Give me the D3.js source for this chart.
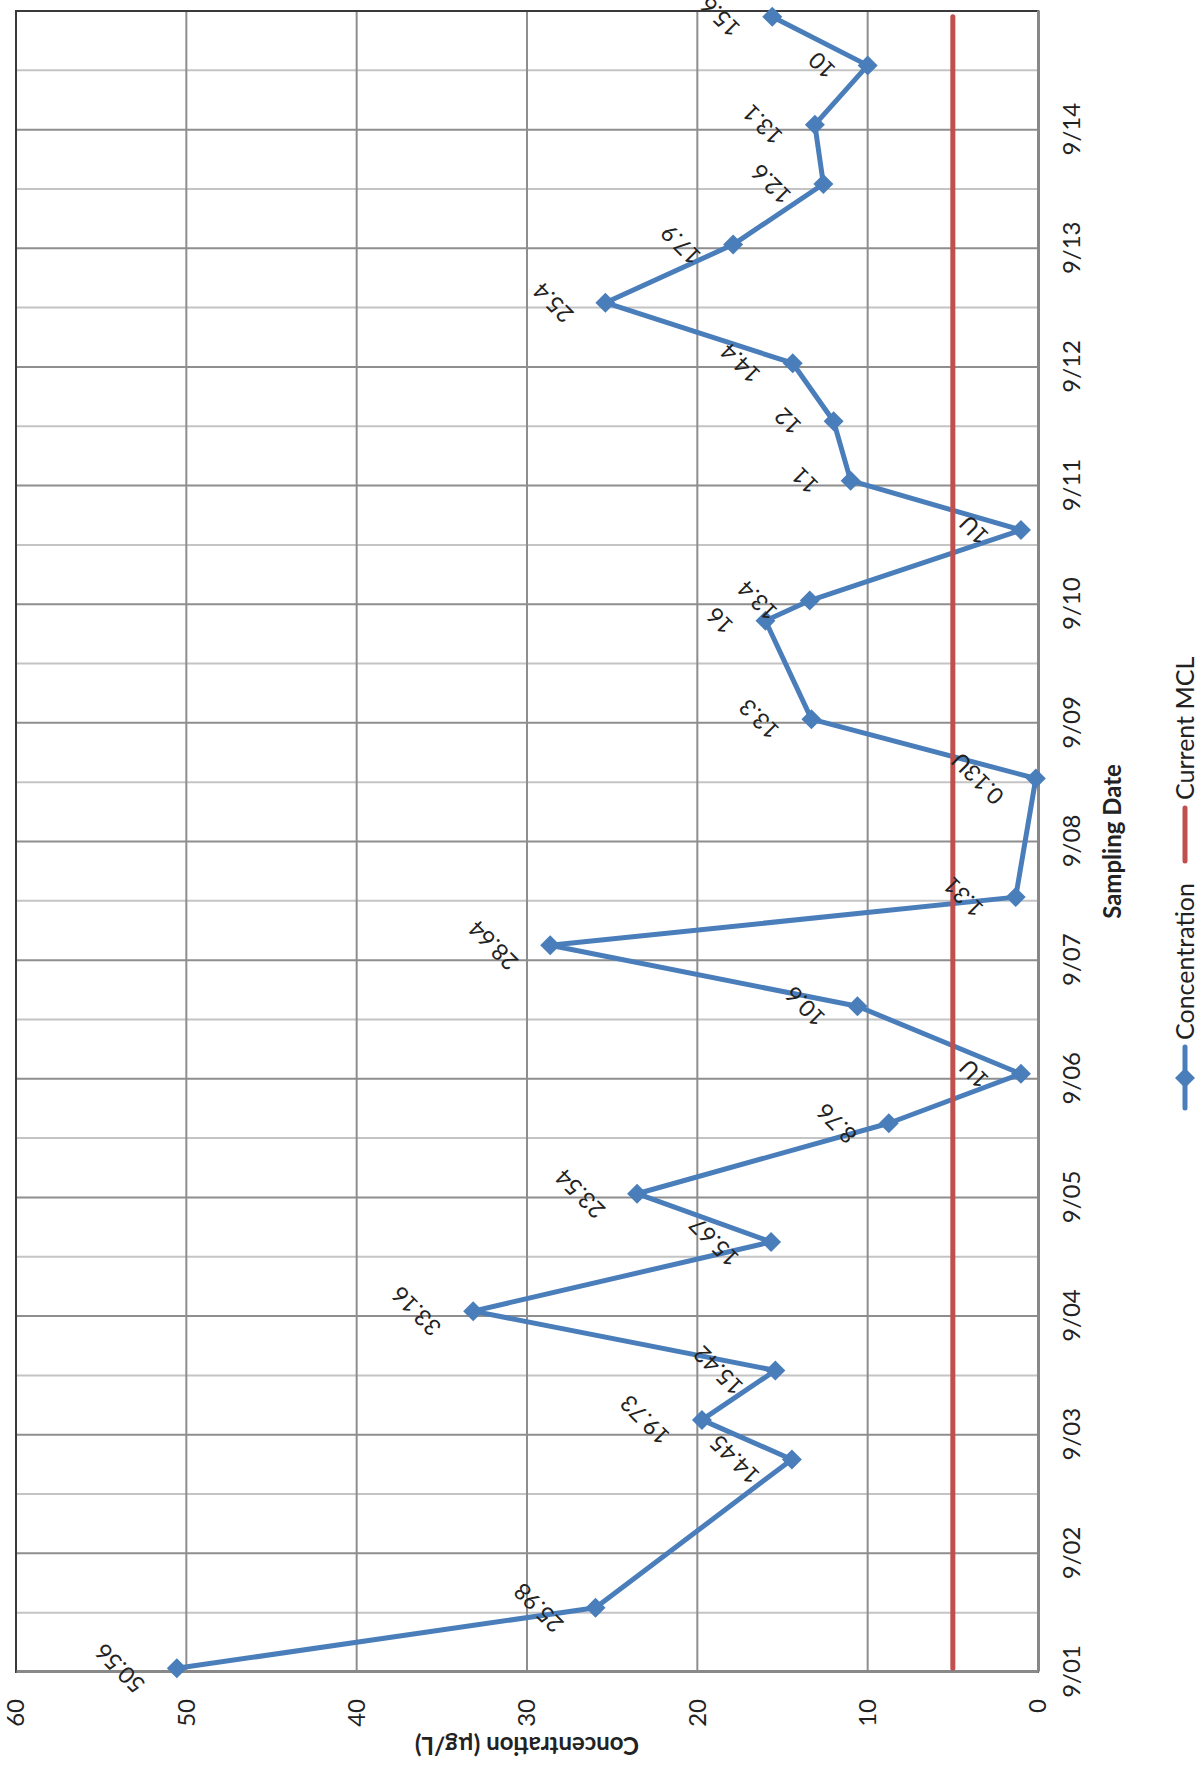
<!DOCTYPE html>
<html>
<head>
<meta charset="utf-8">
<script src="https://cdn.jsdelivr.net/npm/d3@7"></script>
<style>
  html, body { margin: 0; padding: 0; background: #fff; }
  svg { display: block; }
  text { font-family: Lato, "Open Sans", sans-serif; fill: #222; }
</style>
</head>
<body>
<svg id="chart" width="1200" height="1769"></svg>
<script>
// ---- data ----
const sampleTimes = [
  "2014-09-01T00:45", "2014-09-01T13:00", "2014-09-02T19:00", "2014-09-03T03:00",
  "2014-09-03T13:00", "2014-09-04T01:00", "2014-09-04T15:00", "2014-09-05T00:45",
  "2014-09-05T15:00", "2014-09-06T01:00", "2014-09-06T14:40", "2014-09-07T03:00",
  "2014-09-07T12:45", "2014-09-08T12:45", "2014-09-09T00:45", "2014-09-09T20:40",
  "2014-09-10T00:45", "2014-09-10T15:00", "2014-09-11T01:00", "2014-09-11T13:00",
  "2014-09-12T00:45", "2014-09-12T13:00", "2014-09-13T00:45", "2014-09-13T13:00",
  "2014-09-14T01:00", "2014-09-14T13:00", "2014-09-14T22:50"
];
const concentrations = [
  50.56, 25.98, 14.45, 19.73, 15.42, 33.16, 15.67, 23.54, 8.76, 1, 10.6, 28.64,
  1.31, 0.13, 13.3, 16, 13.4, 1, 11, 12, 14.4, 25.4, 17.9, 12.6, 13.1, 10, 15.6
];
const dataLabels = [
  "50.56", "25.98", "14.45", "19.73", "15.42", "33.16", "15.67", "23.54", "8.76", "1U",
  "10.6", "28.64", "1.31", "0.13U", "13.3", "16", "13.4", "1U", "11", "12", "14.4",
  "25.4", "17.9", "12.6", "13.1", "10", "15.6"
];
const mclValue = 5;
const valueTicks = [0, 10, 20, 30, 40, 50, 60];
const dateTickLabels = ["9/01","9/02","9/03","9/04","9/05","9/06","9/07","9/08","9/09","9/10","9/11","9/12","9/13","9/14"];
const seriesNames = ["Concentration", "Current MCL"];
const xTitle = "Sampling Date";
const yTitle = "Concentration (µg/L)";

// ---- layout in the un-rotated frame (1769 wide x 1200 tall) ----
const FW = 1769;
const plot = { left: 97, right: 1758, top: 16, bottom: 1038 };
const parse = d3.timeParse("%Y-%m-%dT%H:%M");
const data = sampleTimes.map((t, i) => ({ t: parse(t), v: concentrations[i], label: dataLabels[i] }));

const start = new Date(2014, 8, 1), end = new Date(2014, 8, 15);
const x = d3.scaleTime().domain([start, end]).range([plot.left, plot.right]);
const y = d3.scaleLinear().domain([0, 60]).range([plot.bottom, plot.top]);

const svg = d3.select("#chart");
const g = svg.append("g").attr("transform", `translate(0,${FW}) rotate(-90)`);

const blue = "#4a7ebb", red = "#c0504d";

// minor (half-day) gridlines
const halfDays = d3.timeDay.range(start, end).map(d => d3.timeHour.offset(d, 12));
g.append("g").selectAll("line").data(halfDays).join("line")
  .attr("x1", d => x(d)).attr("x2", d => x(d))
  .attr("y1", plot.top).attr("y2", plot.bottom)
  .attr("stroke", "#c4c4c4").attr("stroke-width", 2);

// major (day) gridlines
const days = d3.timeDay.range(start, end);
g.append("g").selectAll("line").data(days.slice(1)).join("line")
  .attr("x1", d => x(d)).attr("x2", d => x(d))
  .attr("y1", plot.top).attr("y2", plot.bottom)
  .attr("stroke", "#8e8e8e").attr("stroke-width", 2);

// value gridlines
g.append("g").selectAll("line").data(valueTicks.slice(1, -1)).join("line")
  .attr("x1", plot.left).attr("x2", plot.right)
  .attr("y1", d => y(d)).attr("y2", d => y(d))
  .attr("stroke", "#8e8e8e").attr("stroke-width", 2);

// plot border
g.append("rect")
  .attr("x", plot.left).attr("y", plot.top)
  .attr("width", plot.right - plot.left).attr("height", plot.bottom - plot.top)
  .attr("fill", "none").attr("stroke", "#3a3a3a").attr("stroke-width", 2);

// axes
const xAxis = d3.axisBottom(x).tickValues(days)
  .tickFormat((d, i) => dateTickLabels[i]).tickSize(0).tickPadding(25);
const xg = g.append("g").attr("transform", `translate(0,${plot.bottom})`).call(xAxis);
xg.select(".domain").attr("stroke", "#888").attr("stroke-width", 3);
xg.selectAll("text").attr("font-size", 24).attr("fill", "#222")
  .style("font-family", "Lato, sans-serif");

const yAxis = d3.axisLeft(y).tickValues(valueTicks).tickSize(0).tickPadding(27);
const yg = g.append("g").attr("transform", `translate(${plot.left},0)`).call(yAxis);
yg.select(".domain").attr("stroke", "#888").attr("stroke-width", 3);
yg.selectAll("text").attr("font-size", 24).attr("fill", "#222")
  .style("font-family", "Lato, sans-serif");

// series line
const line = d3.line().x(d => x(d.t)).y(d => y(d.v));
g.append("path").datum(data).attr("d", line)
  .attr("fill", "none").attr("stroke", blue).attr("stroke-width", 5)
  .attr("stroke-linejoin", "round");

// markers
const diamond = d3.symbol().type(d3.symbolSquare).size(200);
g.append("g").selectAll("path").data(data).join("path")
  .attr("d", diamond)
  .attr("transform", d => `translate(${x(d.t)},${y(d.v)}) rotate(45)`)
  .attr("fill", blue);

// MCL line
const mclData = [{ t: data[0].t, v: mclValue }, { t: data[data.length - 1].t, v: mclValue }];
g.append("path").datum(mclData).attr("d", line)
  .attr("fill", "none").attr("stroke", red).attr("stroke-width", 5)
  .attr("stroke-linecap", "round");

// data labels (rotated -45, placed above point)
const fs = 23;
const lbl = g.append("g").selectAll("g").data(data).join("g");
lbl.each(function (d) {
  const grp = d3.select(this);
  const t = grp.append("text").text(d.label)
    .attr("font-size", fs).attr("text-anchor", "middle")
    .attr("dy", "0.35em").attr("fill", "#222");
  const w = t.node().getComputedTextLength();
  const off = 30 + (w + fs * 0.75) * 0.7071 / 2;
  grp.attr("transform", `translate(${x(d.t)},${y(d.v) - off}) rotate(-45)`);
});

// axis titles
g.append("text").text(xTitle)
  .attr("x", (plot.left + plot.right) / 2).attr("y", 1121)
  .attr("text-anchor", "middle").attr("font-size", 24).attr("font-weight", "bold");
g.append("text").text(yTitle)
  .attr("transform", `translate(32,${(plot.top + plot.bottom) / 2}) rotate(-90)`)
  .attr("text-anchor", "middle").attr("font-size", 24).attr("font-weight", "bold");

// legend
const legY = 1185;
const leg1 = g.append("g");
leg1.append("line").attr("x1", 661).attr("x2", 722).attr("y1", legY).attr("y2", legY)
  .attr("stroke", blue).attr("stroke-width", 5).attr("stroke-linecap", "round");
leg1.append("path").attr("d", diamond)
  .attr("transform", `translate(691,${legY}) rotate(45)`).attr("fill", blue);
leg1.append("text").text(seriesNames[0]).attr("x", 729).attr("y", legY)
  .attr("dy", "0.35em").attr("font-size", 25);
const leg2 = g.append("g");
leg2.append("line").attr("x1", 908).attr("x2", 961).attr("y1", legY).attr("y2", legY)
  .attr("stroke", red).attr("stroke-width", 5).attr("stroke-linecap", "round");
leg2.append("text").text(seriesNames[1]).attr("x", 969).attr("y", legY)
  .attr("dy", "0.35em").attr("font-size", 25);
</script>
</body>
</html>
